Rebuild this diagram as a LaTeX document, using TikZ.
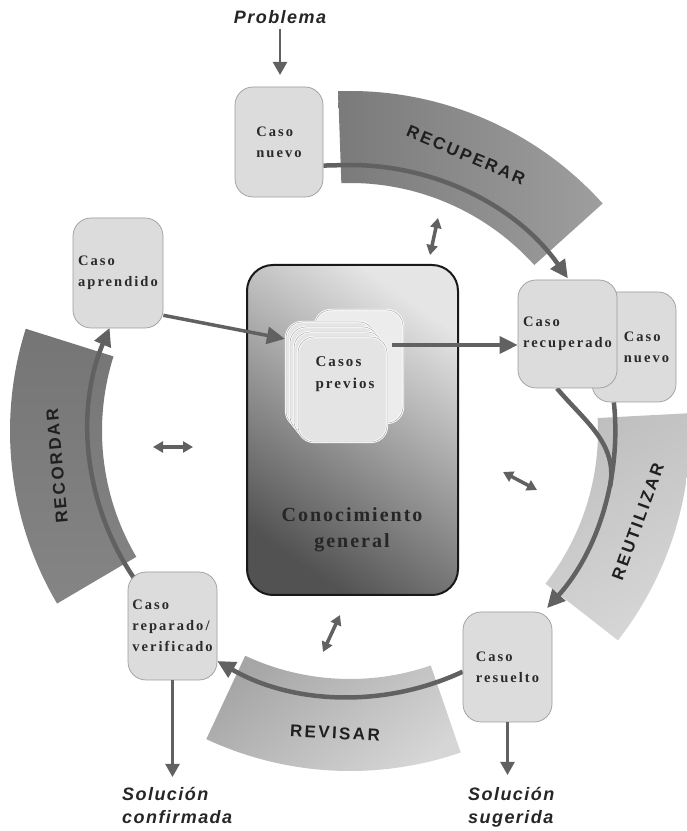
\documentclass[tikz,border=0pt]{standalone}
\usepackage{fontspec}
\usetikzlibrary{arrows.meta,calc}
\newfontfamily\boxfont[LetterSpace=14]{Liberation Serif}
\newfontfamily\kgfont[LetterSpace=10]{Liberation Serif}
\newfontfamily\bandfont[LetterSpace=14]{Liberation Sans}
\newfontfamily\iofont[LetterSpace=8]{Liberation Sans}
\definecolor{arrowgray}{HTML}{616161}
\definecolor{boxfill}{HTML}{DCDCDC}
\definecolor{boxedge}{HTML}{9C9C9C}
\definecolor{txtgray}{HTML}{2A2A2A}
\definecolor{cardfill}{HTML}{E4E4E4}
\definecolor{cardback}{HTML}{ECECEC}
\tikzset{
  casebox/.style={rectangle, rounded corners=18pt, fill=boxfill, draw=boxedge, line width=0.7pt,
    inner sep=0pt, align=left, font=\boxfont\bfseries\fontsize{14.5}{21}\selectfont, text=txtgray},
  boxlabel/.style={align=left, inner sep=0pt, font=\boxfont\bfseries\fontsize{14.5}{21}\selectfont, text=txtgray},
  card/.style={rectangle, rounded corners=16pt, fill=#1, draw=white, line width=2.2pt, inner sep=0pt,
    postaction={draw=black!35, line width=0.5pt}},
  kbox/.style={rectangle, rounded corners=26pt, draw=black!90, line width=2pt,
    top color=black!10, bottom color=black!68, shading angle=-35, inner sep=0pt},
  kgtext/.style={align=center, inner sep=0pt, font=\kgfont\bfseries\fontsize{20}{26}\selectfont, text=black!85},
  cyc/.style={draw=arrowgray, line width=4.5pt, -{Triangle[length=18pt,width=17pt]}},
  cycline/.style={draw=arrowgray, line width=4.5pt},
  midarrow/.style={draw=arrowgray, line width=3.5pt, -{Triangle[length=18pt,width=17pt]}},
  ioarrow/.style={draw=arrowgray, line width=2.5pt, -{Triangle[length=13pt,width=14pt]}},
  dblarrow/.style={draw=arrowgray, line width=3.5pt, {Triangle[length=10pt,width=11pt]}-{Triangle[length=10pt,width=11pt]}},
  bandlabel/.style={font=\bandfont\bfseries\fontsize{17}{17}\selectfont, text=black!88, inner sep=0pt},
  iotext/.style={font=\iofont\bfseries\itshape\fontsize{18}{23}\selectfont, text=black!85, align=left, inner sep=0pt}
}
\begin{document}
\begin{tikzpicture}[x=1pt,y=1pt]
\useasboundingbox (0,0) rectangle (687,831);
\fill[white] (0,0) rectangle (687,831);
\coordinate (C) at (350,400);

% bands
\begin{scope}[shift={(350,400)}]
  \path[left color=black!52, right color=black!38]
    (92:340) arc[start angle=92, end angle=42, radius=340] -- (42:248)
    arc[start angle=42, end angle=92, radius=248] -- cycle;
  \path[top color=black!25, bottom color=black!16, shading angle=30]
    (3:340) arc[start angle=3, end angle=-38, radius=340] -- (-38:248)
    arc[start angle=-38, end angle=3, radius=248] -- cycle;
  \path[top color=black!35, bottom color=black!16, shading angle=40]
    (245:340) arc[start angle=245, end angle=289, radius=340] -- (289:248)
    arc[start angle=289, end angle=245, radius=248] -- cycle;
  \path[top color=black!54, bottom color=black!48]
    (162.5:340) arc[start angle=162.5, end angle=210.5, radius=340] -- (210.5:248)
    arc[start angle=210.5, end angle=162.5, radius=248] -- cycle;
\end{scope}

% central knowledge box
\node[kbox, minimum width=211pt, minimum height=330pt] (kg) at (352.5,401) {};
\node[kgtext] (kgt) at (352,301) {Conocimiento\\general};

% stacked previous cases
\node[card=cardback, minimum width=88pt, minimum height=113pt] (cpb) at (359,464.5) {};
\node[card=cardfill, minimum width=89pt, minimum height=105pt] (cp3) at (330.5,456.5) {};
\node[card=cardfill, minimum width=89pt, minimum height=105pt] (cp2) at (334.5,451.5) {};
\node[card=cardfill, minimum width=89pt, minimum height=105pt] (cp1) at (338.5,446.5) {};
\node[card=cardfill, minimum width=89pt, minimum height=105pt] (cp0) at (342.5,441.5) {};
\node[boxlabel, font=\boxfont\bfseries\fontsize{15}{22}\selectfont] (cpt) at (345,457) {Casos\\previos};

% boxes (shape placeholders first for arrow anchors)
\path node[casebox, minimum width=88pt, minimum height=110pt, draw=none, fill=none] (cn) at (279,689) {}
      node[casebox, minimum width=90pt, minimum height=110pt, draw=none, fill=none] (ca) at (118,558) {}
      node[casebox, minimum width=84pt, minimum height=110pt, draw=none, fill=none] (cn2) at (634,484) {}
      node[casebox, minimum width=99pt, minimum height=108pt, draw=none, fill=none] (cr) at (567.5,497) {}
      node[casebox, minimum width=89pt, minimum height=108pt, draw=none, fill=none] (crv) at (172.5,205) {}
      node[casebox, minimum width=89pt, minimum height=110pt, draw=none, fill=none] (cres) at (507.5,164) {};

% cycle arrows
\draw[cyc] (cn.-28) -- ($(C)+(92:266)$) arc[start angle=92, end angle=35, radius=266];
\draw[cycline] (cr.-101) to[out=-50, in=80] ($(C)+(-12:266)$);
\draw[cyc] (cn2.-110) arc[start angle=6, end angle=-42, radius=266];
\draw[cyc] (cres.186) arc[start angle=-65, end angle=-120, radius=266];
\draw[cyc] (crv.north west) ++(6,-6) arc[start angle=214, end angle=157, radius=263];

% visible boxes
\node[casebox, minimum width=88pt, minimum height=110pt] (cnv) at (cn) {Caso\\nuevo};
\node[casebox, minimum width=90pt, minimum height=110pt] (cav) at (ca) {Caso\\aprendido};
\node[casebox, minimum width=84pt, minimum height=110pt] (cn2v) at (cn2) {};
\node[boxlabel] (cn2t) at (646.5,484) {Caso\\nuevo};
\node[casebox, minimum width=99pt, minimum height=108pt] (crvv) at (cr) {Caso\\recuperado};
\node[casebox, minimum width=89pt, minimum height=108pt] (crvv2) at (crv) {Caso\\reparado/\\verificado};
\node[casebox, minimum width=89pt, minimum height=110pt] (cresv) at (cres) {Caso\\resuelto};

% arrows into / out of the case base
\draw[midarrow] (ca.-43) -- (cp3.142);
\coordinate (cpout) at (392,486);
\draw[midarrow] (cpout) -- (cr.west |- cpout);

% band labels
\node[bandlabel, rotate=-23] (lrec) at (466,676) {RECUPERAR};
\node[bandlabel, rotate=95] (lrecor) at (57,365) {RECORDAR};
\node[bandlabel, rotate=70] (lreu) at (638,309) {REUTILIZAR};
\node[bandlabel, rotate=-3] (lrev) at (335,98) {REVISAR};

% input / outputs
\node[iotext] (prob) at (280,814) {Problema};
\coordinate (cnin) at (280,756);
\draw[ioarrow, shorten <=5pt] (prob.south) -- (cnin);
\node[iotext, anchor=north west] (sc) at (122,44) {Soluci\'on\\confirmada};
\node[iotext, anchor=north west] (ss) at (468,44) {Soluci\'on\\sugerida};
\coordinate (scin) at (172.5,54);
\coordinate (ssin) at (507.5,56);
\draw[ioarrow] (crv.south) -- (scin);
\draw[ioarrow] (cres.south) -- (ssin);

% double arrows to general knowledge
\coordinate (d1a) at (430,576); \coordinate (d1b) at (438,613);
\coordinate (d2a) at (153,384); \coordinate (d2b) at (193,384);
\coordinate (d3a) at (503,359); \coordinate (d3b) at (537,341);
\coordinate (d4a) at (323,179); \coordinate (d4b) at (340,216);
\draw[dblarrow] (d1a) -- (d1b);
\draw[dblarrow] (d2a) -- (d2b);
\draw[dblarrow] (d3a) -- (d3b);
\draw[dblarrow] (d4a) -- (d4b);
\end{tikzpicture}
\end{document}
